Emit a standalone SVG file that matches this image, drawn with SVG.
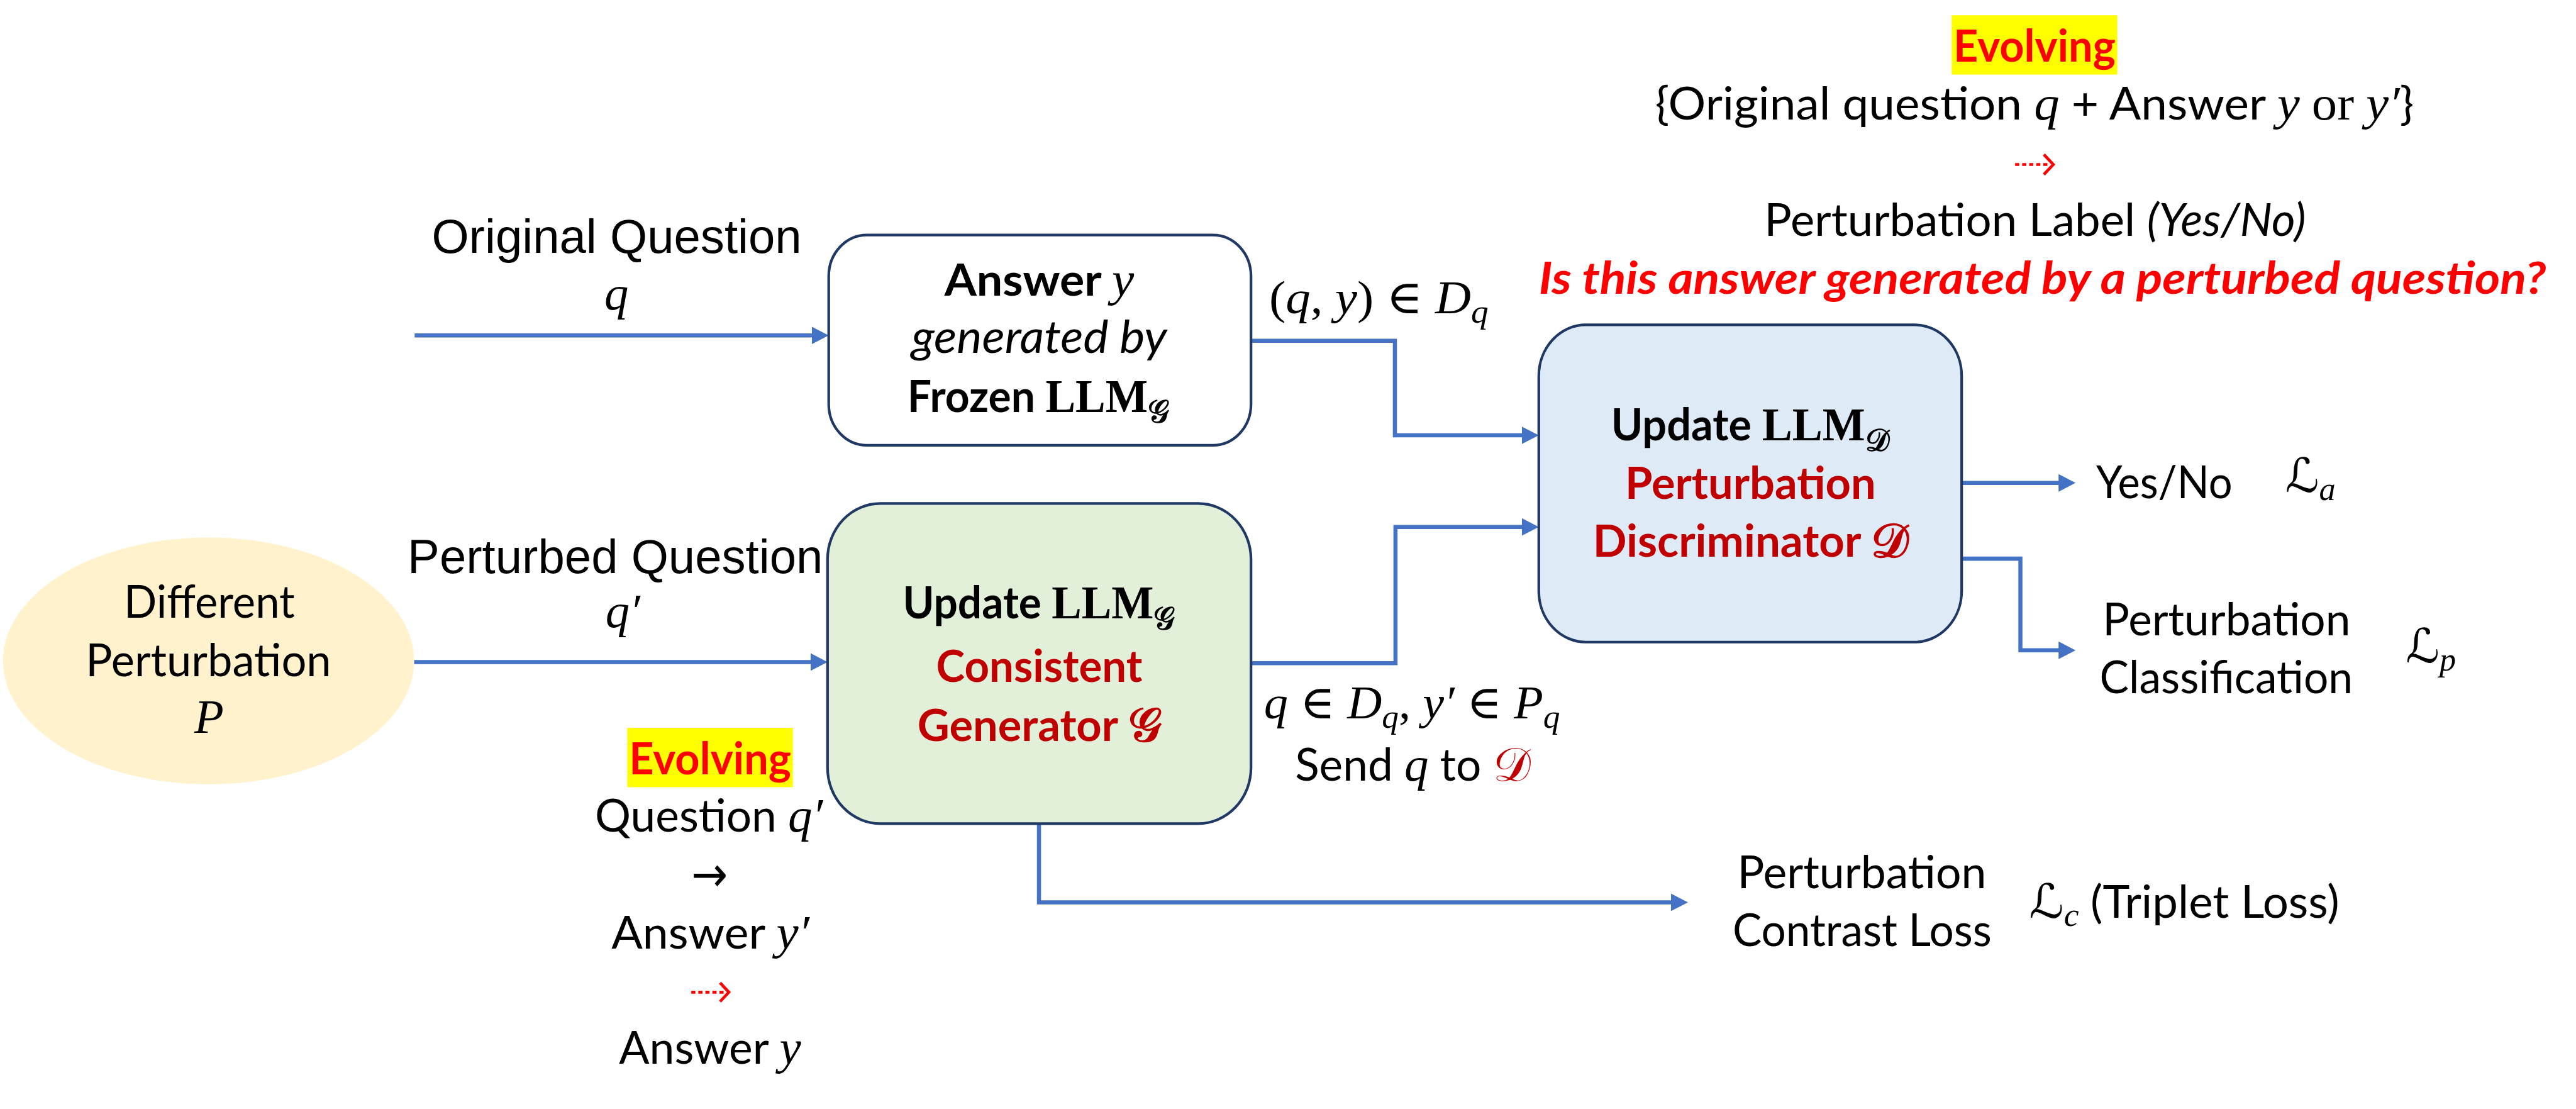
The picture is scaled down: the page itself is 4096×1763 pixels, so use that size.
<svg xmlns="http://www.w3.org/2000/svg" width="4096" height="1763" viewBox="0 0 4096 1763">
<defs>
<style>
.t{font-family:Lato,"Liberation Sans",Arial,sans-serif;font-size:76px;fill:#000}
.a{font-family:"Liberation Sans",Arial,sans-serif;font-size:81px;fill:#000}
.m{font-family:"Liberation Serif","DejaVu Serif",serif;font-style:italic;font-weight:normal}
.r{font-family:"Liberation Serif","DejaVu Serif",serif;font-style:normal;font-weight:normal}
.rb{font-family:"Liberation Serif","DejaVu Serif",serif;font-style:normal;font-weight:bold}
.s{font-family:"DejaVu Serif","DejaVu Sans",serif;font-style:normal}
.b{font-weight:bold}
.i{font-style:italic}
.dr{fill:#C00000}
.red{fill:#FF0000}
.box{stroke:#1F3864;stroke-width:4.5}
.c{fill:none;stroke:#4472C4;stroke-width:7;marker-end:url(#ah)}
.rd{fill:none;stroke:#FF0000;stroke-width:5;stroke-dasharray:7 5}
.rh{fill:none;stroke:#FF0000;stroke-width:5}
</style>
<marker id="ah" markerUnits="userSpaceOnUse" markerWidth="29" markerHeight="30" refX="9" refY="15" orient="auto"><path d="M0,0 L29,15 L0,30 z" fill="#4472C4"/></marker>
</defs>
<rect width="4096" height="1763" fill="#FFFFFF"/>
<g transform="scale(0.933881)">

<g id="connectors">
<path class="c" d="M706,571 H1391"/>
<path class="c" d="M705,1127 H1389"/>
<path class="c" d="M2130,580 H2375 V741 H2600"/>
<path class="c" d="M2130,1129 H2376 V897 H2600"/>
<path class="c" d="M3340,822 H3514"/>
<path class="c" d="M3340,951 H3440 V1107 H3514"/>
<path class="c" d="M1769,1402 V1536 H2854"/>
</g>

<g id="perturbation-source">
<ellipse cx="355" cy="1125" rx="350" ry="210" fill="#FFF2CC"/>
<text x="211" y="1052" class="t" textLength="291" lengthAdjust="spacingAndGlyphs">Different</text>
<text x="146" y="1151" class="t" textLength="418" lengthAdjust="spacingAndGlyphs">Perturbation</text>
<text x="356" y="1247" class="m" font-size="82" text-anchor="middle">P</text>
</g>

<g id="original-question">
<text x="735" y="430" class="a" textLength="630" lengthAdjust="spacingAndGlyphs">Original Question</text>
<text x="1029" y="527" class="m" font-size="82">q</text>
</g>

<g id="perturbed-question">
<text x="694" y="976" class="a" textLength="707" lengthAdjust="spacingAndGlyphs">Perturbed Question</text>
<text x="1031" y="1068" class="m" font-size="82">q′</text>
</g>

<g id="answer-frozen">
<rect x="1411" y="400" width="719" height="358" rx="65" ry="70" fill="#FFFFFF" class="box"/>
<text x="1608" y="503" class="t b" textLength="323" lengthAdjust="spacingAndGlyphs">Answer <tspan class="m" font-size="82">y</tspan></text>
<text x="1552" y="601" class="t i" textLength="435" lengthAdjust="spacingAndGlyphs">generated by</text>
<text x="1545" y="701" class="t b" textLength="446" lengthAdjust="spacingAndGlyphs">Frozen <tspan class="rb" font-size="80">LLM</tspan><tspan class="s" font-size="54" dy="18">𝒢</tspan></text>
</g>

<g id="generator">
<rect x="1409" y="857" width="721" height="545" rx="90" ry="95" fill="#E2F0D9" class="box"/>
<text x="1537" y="1053" class="t b" textLength="464" lengthAdjust="spacingAndGlyphs">Update <tspan class="rb" font-size="80">LLM</tspan><tspan class="s" font-size="54" dy="18">𝒢</tspan></text>
<text x="1594" y="1161" class="t b dr" textLength="351" lengthAdjust="spacingAndGlyphs">Consistent</text>
<text x="1562" y="1261" class="t b dr" textLength="415" lengthAdjust="spacingAndGlyphs">Generator <tspan class="s" font-size="80">𝒢</tspan></text>
</g>

<g id="discriminator">
<rect x="2620" y="553" width="720" height="540" rx="80" ry="87" fill="#DEEBF7" class="box"/>
<text x="2743" y="750" class="t b" textLength="474" lengthAdjust="spacingAndGlyphs">Update <tspan class="rb" font-size="80">LLM</tspan><tspan class="s" font-size="54" dy="18">𝒟</tspan></text>
<text x="2767" y="849" class="t b dr" textLength="427" lengthAdjust="spacingAndGlyphs">Perturbation</text>
<text x="2712" y="948" class="t b dr" textLength="538" lengthAdjust="spacingAndGlyphs">Discriminator <tspan class="s" font-size="80">𝒟</tspan></text>
</g>

<g id="label-dq">
<text x="2161" y="533" class="r" font-size="80" textLength="373" lengthAdjust="spacingAndGlyphs">(<tspan class="m">q</tspan>, <tspan class="m">y</tspan>) ∈ <tspan class="m">D</tspan><tspan class="m" font-size="56" dy="16">q</tspan></text>
</g>

<g id="label-send">
<text x="2152" y="1223" class="r" font-size="80" textLength="504" lengthAdjust="spacingAndGlyphs"><tspan class="m">q</tspan> ∈ <tspan class="m">D</tspan><tspan class="m" font-size="56" dy="16">q</tspan><tspan dy="-16">, </tspan><tspan class="m">y′</tspan> ∈ <tspan class="m">P</tspan><tspan class="m" font-size="56" dy="16">q</tspan></text>
<text x="2205" y="1329" class="t" textLength="401" lengthAdjust="spacingAndGlyphs">Send <tspan class="m" font-size="82">q</tspan> to <tspan class="s dr" font-size="80">𝒟</tspan></text>
</g>

<g id="out-yesno">
<text x="3569" y="848" class="t" textLength="232" lengthAdjust="spacingAndGlyphs">Yes/No</text>
<text x="3891" y="837" class="s" font-size="80">ℒ<tspan class="m" font-size="56" dy="14">a</tspan></text>
</g>

<g id="out-classification">
<text x="3580" y="1081" class="t" textLength="422" lengthAdjust="spacingAndGlyphs">Perturbation</text>
<text x="3575" y="1180" class="t" textLength="431" lengthAdjust="spacingAndGlyphs">Classification</text>
<text x="4096" y="1128" class="s" font-size="80">ℒ<tspan class="m" font-size="56" dy="14">p</tspan></text>
</g>

<g id="out-contrast">
<text x="2958" y="1512" class="t" textLength="424" lengthAdjust="spacingAndGlyphs">Perturbation</text>
<text x="2950" y="1611" class="t" textLength="441" lengthAdjust="spacingAndGlyphs">Contrast Loss</text>
<text x="3455" y="1562" class="t" textLength="528" lengthAdjust="spacingAndGlyphs"><tspan class="s" font-size="80">ℒ</tspan><tspan class="m" font-size="56" dy="14">c</tspan><tspan dy="-14"> (Triplet Loss)</tspan></text>
</g>

<g id="evolving-top">
<rect x="3323" y="26" width="282" height="101" fill="#FFFF00"/>
<text x="3326" y="105" class="t b red" textLength="276" lengthAdjust="spacingAndGlyphs">Evolving</text>
<text x="2818" y="204" class="t" textLength="1292" lengthAdjust="spacingAndGlyphs">{Original question <tspan class="m" font-size="82">q</tspan> + Answer <tspan class="m" font-size="82">y</tspan> <tspan class="r" font-size="82">or</tspan> <tspan class="m" font-size="82">y′</tspan>}</text>
<path class="rd" d="M3431,280 H3490"/>
<path class="rh" d="M3480,263 L3496,280 L3480,297"/>
<text x="3004" y="402" class="t" textLength="922" lengthAdjust="spacingAndGlyphs">Perturbation Label <tspan class="i">(Yes/No)</tspan></text>
<text x="2620" y="500" class="t b i red" textLength="1715" lengthAdjust="spacingAndGlyphs">Is this answer generated by a perturbed question?</text>
</g>

<g id="evolving-bottom">
<rect x="1068" y="1239" width="282" height="101" fill="#FFFF00"/>
<text x="1071" y="1318" class="t b red" textLength="276" lengthAdjust="spacingAndGlyphs">Evolving</text>
<text x="1013" y="1416" class="t" textLength="388" lengthAdjust="spacingAndGlyphs">Question <tspan class="m" font-size="82">q′</tspan></text>
<text x="1177" y="1517" font-family="'DejaVu Sans',sans-serif" font-size="84" textLength="62" lengthAdjust="spacingAndGlyphs">→</text>
<text x="1041" y="1615" class="t" textLength="337" lengthAdjust="spacingAndGlyphs">Answer <tspan class="m" font-size="82">y′</tspan></text>
<path class="rd" d="M1177,1689 H1235"/>
<path class="rh" d="M1226,1673 L1241,1689 L1226,1705"/>
<text x="1054" y="1811" class="t" textLength="310" lengthAdjust="spacingAndGlyphs">Answer <tspan class="m" font-size="82">y</tspan></text>
</g>

</g>
</svg>
